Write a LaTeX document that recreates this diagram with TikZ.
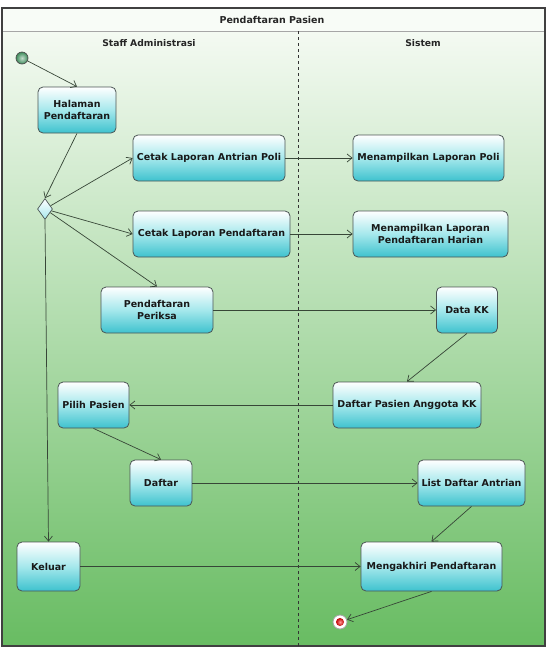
\documentclass[tikz,border=0pt]{standalone}
\usepackage{fontspec}
\setmainfont{DejaVu Sans}
\usetikzlibrary{shapes.geometric,arrows.meta,shadings}
\definecolor{bgtop}{RGB}{244,250,242}
\definecolor{bgbot}{RGB}{104,188,98}
\definecolor{cyanbot}{RGB}{62,194,206}
\definecolor{cyanmid}{RGB}{165,232,236}
\definecolor{edgec}{RGB}{55,70,55}
\definecolor{bordc}{RGB}{75,85,85}
\definecolor{startc}{RGB}{60,140,90}
\tikzset{
  act/.style={rounded corners=5pt, draw=bordc, line width=0.8pt, top color=white, bottom color=cyanbot, middle color=cyanmid,
    minimum height=46pt, align=center, inner sep=2pt, font=\fontsize{9.5}{12}\selectfont\bfseries, text=black!90},
  flow/.style={draw=edgec, line width=0.7pt, -{Straight Barb[length=5pt,width=8pt]}},
  lanehead/.style={font=\fontsize{9.2}{11}\selectfont\bfseries, text=black!85}
}
\begin{document}
\begin{tikzpicture}[x=1pt,y=-1pt]
\useasboundingbox (0,0) rectangle (547,649);
\fill[white] (0,0) rectangle (547,649);
% background
\shade[top color=bgtop, bottom color=bgbot] (2,31) rectangle (545,646);
\fill[bgtop!60!white] (2,8) rectangle (545,31);
\draw[gray!70, line width=0.8pt] (2,31) -- (545,31);
\draw[black!75, line width=1.3pt] (2,8) rectangle (545,646);
\draw[black!80, dashed, line width=0.6pt] (298,31) -- (298,646);
\node[font=\fontsize{9.5}{11}\selectfont\bfseries, text=black!85] (title) at (272,20) {Pendaftaran Pasien};
\node[lanehead] (lane1) at (149,43.5) {Staff Administrasi};
\node[lanehead] (lane2) at (423,43.5) {Sistem};

% start / end
\node[circle, draw=black!70, line width=0.7pt, inner sep=0, minimum size=12pt, inner color=startc!30!white, outer color=startc] (start) at (22,58) {};
\node[circle, draw=gray!70, line width=0.8pt, fill=white, inner sep=0, minimum size=14pt] (end) at (340,622) {};
\node[circle, inner sep=0, minimum size=8pt, inner color=red!40!white, outer color=red!75!black] (endin) at (340,622) {};

% activities
\node[act, minimum width=78pt] (hal) at (77,110) {Halaman\\Pendaftaran};
\node[diamond, draw=bordc, line width=0.7pt, top color=white, bottom color=cyanmid, minimum width=15pt, minimum height=21pt, aspect=0.7, inner sep=0] (dia) at (45,209) {};
\node[act, minimum width=152pt] (c1) at (209,158) {Cetak Laporan Antrian Poli};
\node[act, minimum width=157pt] (c2) at (211.5,234) {Cetak Laporan Pendaftaran};
\node[act, minimum width=112pt] (pp) at (157,310) {Pendaftaran\\Periksa};
\node[act, minimum width=151pt] (m1) at (428.5,158) {Menampilkan Laporan Poli};
\node[act, minimum width=155pt] (m2) at (430.5,234) {Menampilkan Laporan\\Pendaftaran Harian};
\node[act, minimum width=61pt] (dkk) at (467,310) {Data KK};
\node[act, minimum width=148pt] (dpa) at (407,405) {Daftar Pasien Anggota KK};
\node[act, minimum width=71pt] (pil) at (93.5,405) {Pilih Pasien};
\node[act, minimum width=62pt] (daf) at (161,483) {Daftar};
\node[act, minimum width=107pt] (lda) at (471.5,483) {List Daftar Antrian};
\node[act, minimum width=63pt, minimum height=49pt] (kel) at (48.5,566.5) {Keluar};
\node[act, minimum width=141pt, minimum height=49pt] (mp) at (431.5,566.5) {Mengakhiri Pendaftaran};

% flows
\draw[flow] (start) -- (hal.north);
\draw[flow] (hal.south) -- (dia.north);
\draw[flow] (dia) -- (c1.west);
\draw[flow] (dia) -- (c2.west);
\draw[flow] (dia) -- (pp.north);
\draw[flow] (dia.south) -- (kel.north);
\draw[flow] (c1) -- (m1);
\draw[flow] (c2) -- (m2);
\draw[flow] (pp) -- (dkk);
\draw[flow] (dkk.south) -- (dpa.north);
\draw[flow] (dpa) -- (pil);
\draw[flow] (pil.south) -- (daf.north);
\draw[flow] (daf) -- (lda);
\draw[flow] (lda.south) -- (mp.north);
\draw[flow] (kel) -- (mp);
\draw[flow] (mp.south) -- (end);
\end{tikzpicture}
\end{document}
